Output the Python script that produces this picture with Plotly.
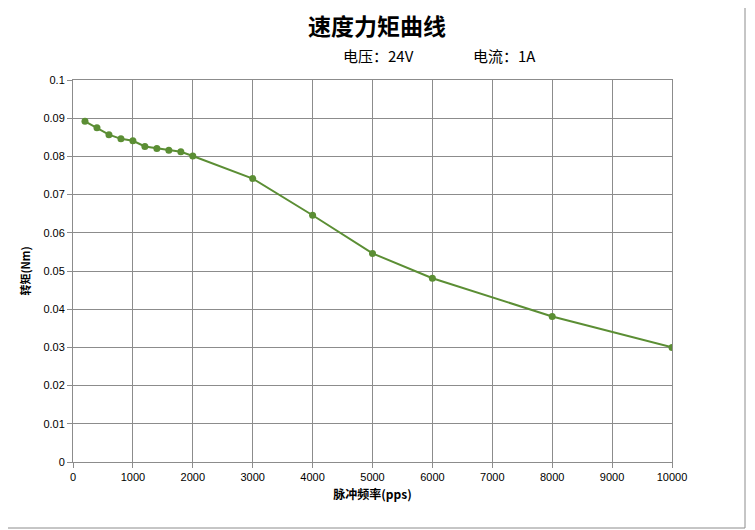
import plotly.graph_objects as go

# 脉冲频率 (pps) vs 转矩 (Nm)
freq = [200, 400, 600, 800, 1000, 1200, 1400, 1600, 1800, 2000,
        3000, 4000, 5000, 6000, 8000, 10000]
torque = [0.0892, 0.0875, 0.0857, 0.0846, 0.0841, 0.0826, 0.0821, 0.0816, 0.0812, 0.0801,
          0.0742, 0.0646, 0.0546, 0.0481, 0.0381, 0.0300]

x_ticks = list(range(0, 10001, 1000))
y_ticks = [i / 100 for i in range(0, 11)]
y_labels = ["0"] + [f"{v:g}" for v in y_ticks[1:]]

green = "#5b8e34"
grid = "#8c8c8c"
font = "Liberation Sans, Arial, sans-serif"
cjk = "Noto Sans CJK SC, sans-serif"

# the page puts the figure 8px in from the top-left corner
off = 8
W, H = 755, 530
L, T, PW, PH = 73 - off, 80 - off, 599, 382
R, B = W - L - PW, H - T - PH

fig = go.Figure()
fig.add_trace(go.Scatter(
    x=freq, y=torque, mode="lines+markers",
    line=dict(color=green, width=2),
    marker=dict(color=green, size=7),
    showlegend=False,
))

fig.update_xaxes(
    range=[0, 10000], tickvals=x_ticks, ticktext=[str(v) for v in x_ticks],
    showgrid=True, gridcolor=grid, gridwidth=1,
    showline=True, linecolor=grid, linewidth=1, mirror=True,
    ticks="outside", ticklen=5, tickcolor=grid, zeroline=False,
    tickfont=dict(family=font, size=11, color="#000"),
    title=dict(text="<b>脉冲频率(pps)</b>", font=dict(family=cjk, size=12, color="#000"), standoff=8),
)
fig.update_yaxes(
    range=[0, 0.1], tickvals=y_ticks, ticktext=y_labels,
    showgrid=True, gridcolor=grid, gridwidth=1,
    showline=True, linecolor=grid, linewidth=1, mirror=True,
    ticks="outside", ticklen=5, tickcolor=grid, zeroline=False,
    tickfont=dict(family=font, size=11, color="#000"),
    title=dict(text="<b>转矩(Nm)</b>", font=dict(family=cjk, size=11, color="#000"), standoff=10),
)


def px_x(p):
    return (p - off - L) / PW


def px_y(p):
    return (H - B - (p - off)) / PH


fig.add_annotation(text="<b>速度力矩曲线</b>", x=px_x(377), y=px_y(25),
                   xref="paper", yref="paper", showarrow=False,
                   xanchor="center", yanchor="middle",
                   font=dict(family=cjk, size=23, color="#000"))
fig.add_annotation(text="电压：24V", x=px_x(378), y=px_y(56), xref="paper", yref="paper",
                   showarrow=False, xanchor="center", yanchor="middle",
                   font=dict(family=cjk, size=15, color="#000"))
fig.add_annotation(text="电流：1A", x=px_x(504), y=px_y(56), xref="paper", yref="paper",
                   showarrow=False, xanchor="center", yanchor="middle",
                   font=dict(family=cjk, size=15, color="#000"))

# outer border (right and bottom sides fall inside the visible area)
fig.add_shape(type="line", xref="paper", yref="paper",
              x0=px_x(745), x1=px_x(745), y0=px_y(8), y1=px_y(528),
              line=dict(color=grid, width=1))
fig.add_shape(type="line", xref="paper", yref="paper",
              x0=px_x(8), x1=px_x(745), y0=px_y(528), y1=px_y(528),
              line=dict(color=grid, width=1))

fig.update_layout(
    width=W, height=H,
    margin=dict(l=L, r=R, t=T, b=B),
    plot_bgcolor="white", paper_bgcolor="white",
)

fig.write_html("out.html")
